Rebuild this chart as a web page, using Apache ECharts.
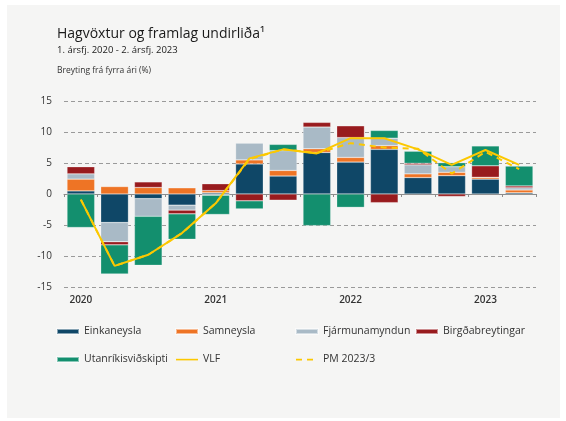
<!DOCTYPE html>
<html>
<head>
<meta charset="utf-8">
<script src="https://cdn.jsdelivr.net/npm/echarts@6/dist/echarts.min.js"></script>
<style>
  html, body { margin: 0; padding: 0; background: #fff; }
  .panel {
    position: absolute; left: 7px; top: 5px; width: 553px; height: 413px;
    background: #f5f5f4;
  }
  #chart { position: absolute; left: 0; top: 0; width: 566px; height: 421px; }
</style>
</head>
<body>
<div class="panel"></div>
<div id="chart"></div>
<script>
// ársfjórðungar 2020Q1 - 2023Q2
const quarters = ["2020", "", "", "", "2021", "", "", "", "2022", "", "", "", "2023", ""];

const einkaneysla   = [0.5, -4.6, -0.75, -1.8, 0.2, 4.85, 2.9, 6.7, 5.15, 7.2, 2.65, 2.95, 2.4, 0.2];
const samneysla     = [1.9, 1.2, 1.05, 1.0, 0.35, 0.65, 0.9, 0.6, 0.75, 0.6, 0.6, 0.55, 0.3, 0.45];
const fjarmuna      = [0.85, -3.1, -2.85, -0.8, -0.2, 2.7, 3.2, 3.5, 3.2, 1.2, 1.45, 0.9, 0, 0.35];
const birgda        = [1.15, -0.5, 0.9, -0.6, 1.1, -1.1, -1.0, 0.75, 1.9, -1.4, 0.25, -0.4, 1.85, 0.3];
const utanrikis     = [-5.4, -4.7, -7.9, -4.1, -3.1, -1.3, 1.0, -5.1, -2.15, 1.25, 1.95, 0.65, 3.2, 3.2];
const vlf           = [-0.9, -11.6, -9.8, -6.3, -1.5, 5.75, 7.2, 6.55, 9.0, 9.0, 7.2, 4.7, 7.1, 4.7];
const pm2023        = [-0.9, -11.6, -9.8, -6.3, -1.5, 5.6, 7.2, 6.6, 8.2, 7.5, 7.3, 3.3, 6.8, 4.0];

const yTicks = [-15, -10, -5, 0, 5, 10, 15];

const font = "'Open Sans', 'Noto Sans', sans-serif";
const colors = {
  navy: "#0f4767",
  orange: "#ee7425",
  grey: "#a9bac6",
  red: "#981b1e",
  green: "#138f6e",
  yellow: "#fcc800"
};

// thin line icons for the legend (moveTo points keep the box 22x5)
const solidIcon = "path://M0,0M22,5M0,1.8h22v1.6h-22z";
const dashIcon = "path://M0,0M22,5M0,1.8h6v1.6h-6zM11,1.8h6v1.6h-6z";

function barSeries(name, data, color) {
  return {
    name: name,
    type: "bar",
    stack: "framlag",
    data: data,
    barCategoryGap: "18%",
    itemStyle: { color: color, borderColor: "rgba(255,255,255,0.5)", borderWidth: 0.5 },
    emphasis: { disabled: true }
  };
}

const legendBase = {
  orient: "vertical",
  itemWidth: 22,
  itemHeight: 5,
  itemGap: 17,
  textStyle: { fontFamily: font, fontSize: 10.5, color: "#333" },
  selectedMode: false
};

const chart = echarts.init(document.getElementById("chart"));
chart.setOption({
  backgroundColor: "transparent",
  animation: false,
  title: [
    {
      text: "Hagvöxtur og framlag undirliða¹",
      left: 52, top: 22,
      textStyle: { fontFamily: font, fontSize: 14, fontWeight: "normal", color: "#1a1a1a" }
    },
    {
      text: "1. ársfj. 2020 - 2. ársfj. 2023",
      left: 52, top: 40,
      textStyle: { fontFamily: font, fontSize: 9.5, fontWeight: "normal", color: "#1a1a1a" }
    },
    {
      text: "Breyting frá fyrra ári (%)",
      left: 52, top: 61,
      textStyle: { fontFamily: font, fontSize: 8.5, fontWeight: "normal", color: "#333" }
    }
  ],
  legend: [
    Object.assign({}, legendBase, { left: 51, top: 321, data: [
      { name: "Einkaneysla", icon: "rect" }, { name: "Utanríkisviðskipti", icon: "rect" }] }),
    Object.assign({}, legendBase, { left: 170, top: 321, data: [
      { name: "Samneysla", icon: "rect" }, { name: "VLF", icon: solidIcon }] }),
    Object.assign({}, legendBase, { left: 290, top: 321, data: [
      { name: "Fjármunamyndun", icon: "rect" }, { name: "PM 2023/3", icon: dashIcon }] }),
    Object.assign({}, legendBase, { left: 410, top: 321, data: [
      { name: "Birgðabreytingar", icon: "rect" }] })
  ],
  grid: { left: 64, right: 30, top: 101, bottom: 134 },
  xAxis: {
    type: "category",
    data: quarters,
    axisLine: { onZero: true, lineStyle: { color: "#8c8c8c", width: 1 } },
    axisTick: { show: true, interval: 0, length: 3, lineStyle: { color: "#8c8c8c" } },
    axisLabel: {
      interval: 0, margin: 8, fontFamily: font, fontSize: 10, fontWeight: 600, color: "#333"
    },
    position: "bottom"
  },
  yAxis: {
    type: "value",
    min: yTicks[0],
    max: yTicks[yTicks.length - 1],
    interval: 5,
    axisLine: { show: false },
    axisTick: { show: false },
    axisLabel: { fontFamily: font, fontSize: 10, color: "#333", margin: 12 },
    splitLine: { lineStyle: { color: "#9a9a9a", type: [4, 3], width: 1 } }
  },
  series: [
    barSeries("Einkaneysla", einkaneysla, colors.navy),
    barSeries("Samneysla", samneysla, colors.orange),
    barSeries("Fjármunamyndun", fjarmuna, colors.grey),
    barSeries("Birgðabreytingar", birgda, colors.red),
    barSeries("Utanríkisviðskipti", utanrikis, colors.green),
    {
      name: "VLF",
      type: "line",
      data: vlf,
      symbol: "none",
      lineStyle: { color: colors.yellow, width: 2 },
      itemStyle: { color: colors.yellow },
      z: 5
    },
    {
      name: "PM 2023/3",
      type: "line",
      data: pm2023,
      symbol: "none",
      lineStyle: { color: colors.yellow, width: 2, type: [6, 5] },
      itemStyle: { color: colors.yellow },
      z: 6
    }
  ]
});
</script>
</body>
</html>
